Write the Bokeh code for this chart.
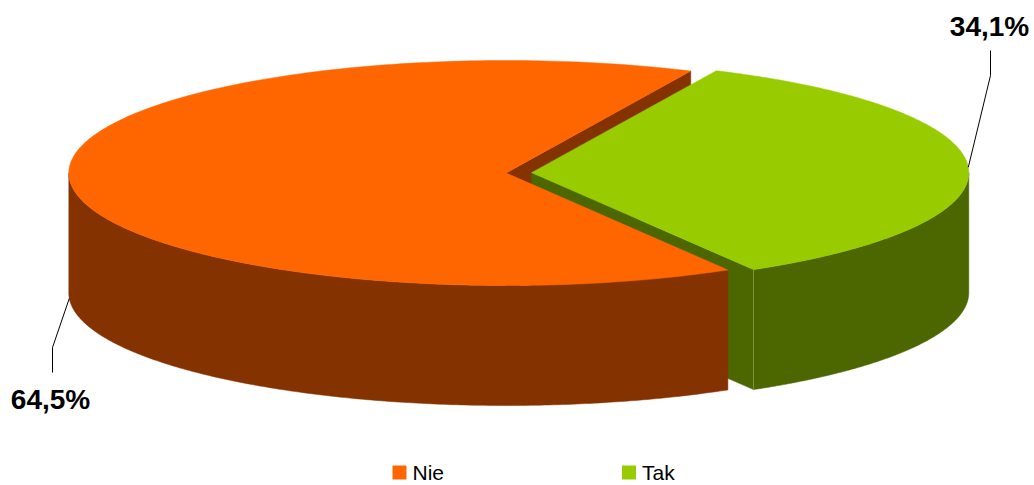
import numpy as np
from bokeh.plotting import figure
from bokeh.models import Range1d
from bokeh.core.properties import value
from bokeh.embed import file_html
from bokeh.resources import INLINE

# ---- data ----
categories = ["Nie", "Tak"]
percents = [64.5, 34.1]
top_colors = ["#FF6600", "#99CC00"]
side_colors = ["#843300", "#4C6600"]

# ---- geometry (style) ----
CX, CY = 505.5, 172.5      # pie centre (screen px)
RX, RY = 437.2, 112.5      # ellipse radii
DEPTH = 120.0              # thickness
START = 65.0               # angle where first slice starts (deg, ccw)
EXPLODE = [0.0, 0.0586]    # explosion fraction of radius

W, H = 1034, 485
p = figure(width=W, height=H, output_backend="svg", toolbar_location=None,
           x_range=Range1d(0, W), y_range=Range1d(H, 0),
           min_border=0, background_fill_color="white", border_fill_color="white")
p.axis.visible = False
p.grid.visible = False
p.outline_line_color = None

total = sum(percents)
spans = [v / total * 360.0 for v in percents]
angles = []
a = START
for s in spans:
    angles.append((a, a + s))
    a += s

def centre(i):
    a0, a1 = angles[i]
    m = np.radians((a0 + a1) / 2)
    return CX + EXPLODE[i] * RX * np.cos(m), CY - EXPLODE[i] * RY * np.sin(m)

def pt(cx, cy, ang, dz=0.0):
    r = np.radians(ang)
    return cx + RX * np.cos(r), cy - RY * np.sin(r) + dz

def arc(cx, cy, a0, a1, dz=0.0, n=200):
    t = np.radians(np.linspace(a0, a1, n))
    return cx + RX * np.cos(t), cy - RY * np.sin(t) + dz

def radial_face(i, ang):
    cx, cy = centre(i)
    ex, ey = pt(cx, cy, ang)
    xs = [cx, ex, ex, cx]
    ys = [cy, ey, ey + DEPTH, cy + DEPTH]
    p.patch(xs, ys, fill_color=side_colors[i], line_color=side_colors[i], line_width=0.5)

def outer_wall(i, a0, a1):
    if a1 <= a0:
        return
    cx, cy = centre(i)
    xt, yt = arc(cx, cy, a0, a1)
    xb, yb = arc(cx, cy, a1, a0, DEPTH)
    p.patch(np.concatenate([xt, xb]), np.concatenate([yt, yb]),
            fill_color=side_colors[i], line_color=side_colors[i], line_width=0.5)

def top_face(i):
    cx, cy = centre(i)
    a0, a1 = angles[i]
    xs, ys = arc(cx, cy, a0, a1)
    p.patch(np.concatenate([[cx], xs]), np.concatenate([[cy], ys]),
            fill_color=top_colors[i], line_color=top_colors[i], line_width=0.5)

def front_range(a0, a1):
    lo = max(a0, 180.0)
    hi = min(a1, 360.0)
    return lo, hi

# Nie: radial face at its start edge (exposed by the exploded slice)
radial_face(0, angles[0][0])

# Tak slice
radial_face(1, angles[1][0])
lo, hi = front_range(angles[1][0], angles[1][1])
outer_wall(1, lo, hi)
gcx, gcy = centre(1)
sx, sy = pt(gcx, gcy, angles[1][0])
p.line([sx, sx], [sy, sy + DEPTH], line_color="#7F9440", line_width=1)
top_face(1)

# Nie slice walls + top
lo, hi = front_range(angles[0][0], angles[0][1])
outer_wall(0, lo, hi)
top_face(0)

# ---- labels with leader lines ----
labels = [f"{v:.1f}".replace(".", ",") + "%" for v in percents]

m0 = (angles[0][0] + angles[0][1]) / 2
x0, y0 = pt(*centre(0), m0, DEPTH)
p.line([x0, 52, 52], [y0, 347, 372], line_color="black", line_width=1)
m1 = (angles[1][0] + angles[1][1]) / 2
x1, y1 = pt(*centre(1), m1)
p.line([x1, 990, 990], [y1, 75, 50], line_color="black", line_width=1)

p.text(x=[50, 989], y=[399, 26], text=[labels[0], labels[1]],
       text_font=value("Liberation Sans"), text_font_style="bold",
       text_font_size=value("28px"), text_color="black",
       text_align="center", text_baseline="middle")

# ---- legend ----
leg_x = [399, 628.5]
leg_y = 472
p.rect(x=leg_x, y=[leg_y] * 2, width=14, height=14, fill_color=top_colors,
       line_color=None)
p.text(x=[x + 13 for x in leg_x], y=[leg_y] * 2, text=categories,
       text_font=value("Liberation Sans"), text_font_size=value("21px"),
       text_color="black", text_align="left", text_baseline="middle")

open("out.html", "w").write(file_html(p, INLINE))
